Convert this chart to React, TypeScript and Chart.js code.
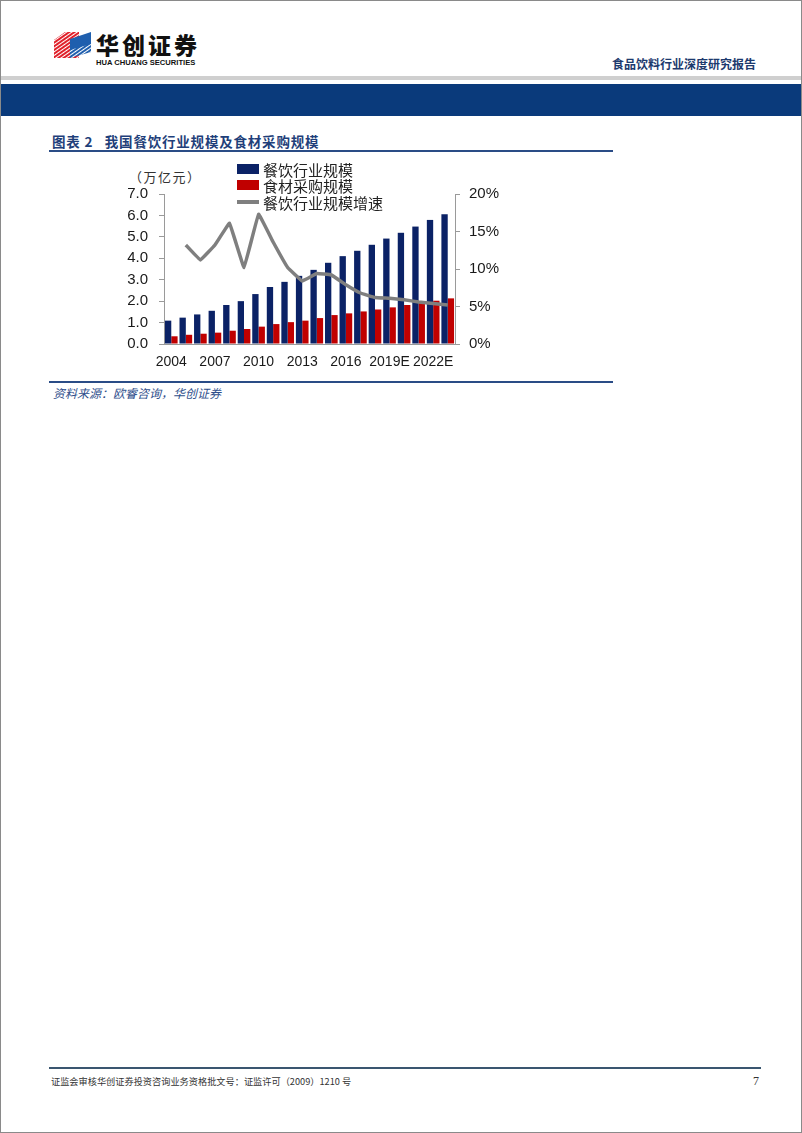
import React, { useEffect, useRef } from "react";
import { Chart, registerables } from "chart.js";

Chart.register(...registerables);

const categories = [
  "2004", "2005", "2006", "2007", "2008", "2009", "2010", "2011", "2012", "2013",
  "2014", "2015", "2016", "2017", "2018", "2019E", "2020E", "2021E", "2022E", "2023E",
];
const cateringScale = [1.09, 1.23, 1.38, 1.55, 1.82, 2.0, 2.33, 2.66, 2.9, 3.18, 3.46, 3.79, 4.1, 4.35, 4.63, 4.92, 5.19, 5.48, 5.79, 6.06];
const foodPurchase = [0.36, 0.43, 0.48, 0.53, 0.62, 0.7, 0.81, 0.93, 1.02, 1.09, 1.21, 1.35, 1.43, 1.52, 1.61, 1.71, 1.82, 1.91, 2.02, 2.13];
const cateringGrowth = [null, 13.2, 11.2, 13.2, 16.1, 10.2, 17.3, 13.6, 10.2, 8.4, 9.4, 9.2, 7.9, 6.8, 6.2, 6.1, 5.9, 5.6, 5.4, 5.2];
const seriesNames = ["餐饮行业规模", "食材采购规模", "餐饮行业规模增速"];
const leftTicks = { min: 0, max: 7, step: 1 };
const rightTicks = { min: 0, max: 20, step: 5 };

const NAVY = "#0b2266";
const RED = "#c00000";
const GRAY = "#7f7f7f";
const AXIS = "#9a9a9a";
const TICK_FONT = "'Liberation Sans', Arial, sans-serif";
const CJK = "'Noto Sans CJK SC', sans-serif";

function ChartBox() {
  const ref = useRef<HTMLCanvasElement | null>(null);
  useEffect(() => {
    if (!ref.current) return;
    const chart = new Chart(ref.current, {
      data: {
        labels: categories,
        datasets: [
          {
            type: "line",
            label: seriesNames[2],
            data: cateringGrowth,
            yAxisID: "y1",
            borderColor: GRAY,
            borderWidth: 3.5,
            pointRadius: 0,
            tension: 0.05,
            borderJoinStyle: "round",
            order: 0,
          } as any,
          {
            type: "bar",
            label: seriesNames[0],
            data: cateringScale,
            yAxisID: "y",
            backgroundColor: NAVY,
            categoryPercentage: 0.87,
            barPercentage: 1.0,
            order: 1,
          },
          {
            type: "bar",
            label: seriesNames[1],
            data: foodPurchase,
            yAxisID: "y",
            backgroundColor: RED,
            categoryPercentage: 0.87,
            barPercentage: 1.0,
            order: 1,
          },
        ],
      },
      options: {
        responsive: false,
        maintainAspectRatio: false,
        animation: false,
        layout: { padding: { top: 43, left: 0, right: 0, bottom: 0 } },
        plugins: { legend: { display: false }, tooltip: { enabled: false } },
        scales: {
          x: {
            grid: { display: false },
            border: { display: true, color: AXIS, width: 1 },
            ticks: {
              autoSkip: false,
              maxRotation: 0,
              minRotation: 0,
              padding: 2,
              color: "#1a1a1a",
              font: { family: TICK_FONT, size: 14 },
              callback: (_v: any, i: number) => (i % 3 === 0 ? categories[i] : ""),
            },
            afterFit: (s: any) => {
              s.height = 37;
            },
          },
          y: {
            position: "left",
            min: leftTicks.min,
            max: leftTicks.max,
            grid: { drawOnChartArea: false, drawTicks: true, tickLength: 5, color: AXIS },
            border: { display: true, color: AXIS, width: 1 },
            ticks: {
              stepSize: leftTicks.step,
              padding: 11,
              color: "#1a1a1a",
              font: { family: TICK_FONT, size: 15 },
              callback: (v: any) => Number(v).toFixed(1),
            },
            afterFit: (s: any) => {
              s.width = 63;
            },
          },
          y1: {
            position: "right",
            min: rightTicks.min,
            max: rightTicks.max,
            grid: { drawOnChartArea: false, drawTicks: true, tickLength: 5, color: AXIS },
            border: { display: true, color: AXIS, width: 1 },
            ticks: {
              stepSize: rightTicks.step,
              padding: 9,
              color: "#1a1a1a",
              font: { family: TICK_FONT, size: 15 },
              callback: (v: any) => `${v}%`,
            },
            afterFit: (s: any) => {
              s.width = 66;
            },
          },
        },
      },
    });
    return () => chart.destroy();
  }, []);
  return (
    <canvas
      ref={ref}
      width={420}
      height={230}
      style={{ position: "absolute", left: 100, top: 150, width: 420, height: 230 }}
    />
  );
}

const abs = (l: number, t: number, extra: React.CSSProperties = {}): React.CSSProperties => ({
  position: "absolute",
  left: l,
  top: t,
  ...extra,
});

function Logo() {
  return (
    <svg style={abs(52, 29)} width={40} height={30} viewBox="0 0 40 30">
      <defs>
        <pattern id="stripes" width="3" height="3" patternUnits="userSpaceOnUse" patternTransform="rotate(-35)">
          <rect width="3" height="3" fill="transparent" />
          <rect width="3" height="1" fill="#ffffff" />
        </pattern>
      </defs>
      <polygon points="1,10 12,2 26,2 26,28 1,28" fill="#e0202a" />
      <polygon points="1,10 12,2 26,2 26,28 1,28" fill="url(#stripes)" />
      <polygon points="17,9 38,2 38,22 17,28" fill="#1f5fae" />
      <polygon points="17,20 38,14 38,22 17,28" fill="url(#stripes)" />
    </svg>
  );
}

export default function App() {
  useEffect(() => {
    document.body.style.margin = "0";
  }, []);
  return (
    <div
      style={{
        position: "absolute",
        left: 0,
        top: 0,
        width: 802,
        height: 1133,
        boxSizing: "border-box",
        border: "1px solid #8a8a8a",
        background: "#ffffff",
        overflow: "hidden",
        fontFamily: CJK,
      }}
    >
      <Logo />
      <div style={abs(95, 31, { fontSize: 23, fontWeight: 900, color: "#111", lineHeight: "24px", letterSpacing: 3, whiteSpace: "nowrap" })}>
        华创证券
      </div>
      <div
        style={abs(95, 58, {
          fontFamily: TICK_FONT,
          fontSize: 7.6,
          fontWeight: 700,
          color: "#111",
          lineHeight: "8px",
          whiteSpace: "nowrap",
        })}
      >
        HUA CHUANG SECURITIES
      </div>
      <div style={abs(611, 55, { fontSize: 12, fontWeight: 700, color: "#1d3a6e", lineHeight: "16px", whiteSpace: "nowrap" })}>
        食品饮料行业深度研究报告
      </div>
      <div style={abs(0, 75, { width: 802, height: 4, background: "#cfcfcf" })} />
      <div style={abs(0, 83, { width: 802, height: 32, background: "#0a3a7b" })} />

      <div style={abs(51, 131, { fontSize: 13.5, fontWeight: 700, color: "#1f3f7a", lineHeight: "18px", whiteSpace: "nowrap", letterSpacing: 0.8 })}>
        图表 2&nbsp;&nbsp;&nbsp;我国餐饮行业规模及食材采购规模
      </div>
      <div style={abs(48, 149, { width: 564, height: 2, background: "#2a4c86" })} />

      <div style={abs(128, 168, { fontSize: 13, color: "#333", lineHeight: "16px", whiteSpace: "nowrap", letterSpacing: 1.5 })}>（万亿元）</div>

      <ChartBox />

      {/* legend */}
      <div style={abs(236, 163, { width: 22, height: 10, background: NAVY })} />
      <div style={abs(262, 161, { fontSize: 15, color: "#222", lineHeight: "15px", whiteSpace: "nowrap" })}>{seriesNames[0]}</div>
      <div style={abs(236, 179, { width: 22, height: 10, background: RED })} />
      <div style={abs(262, 177, { fontSize: 15, color: "#222", lineHeight: "15px", whiteSpace: "nowrap" })}>{seriesNames[1]}</div>
      <div style={abs(236, 199, { width: 22, height: 3.5, background: GRAY })} />
      <div style={abs(262, 194, { fontSize: 15, color: "#222", lineHeight: "15px", whiteSpace: "nowrap" })}>{seriesNames[2]}</div>

      <div style={abs(48, 380, { width: 564, height: 2, background: "#2a4c86" })} />
      <div style={abs(52, 384, { fontSize: 12, fontStyle: "italic", color: "#2f4f8c", lineHeight: "16px", whiteSpace: "nowrap" })}>
        资料来源：欧睿咨询，华创证券
      </div>

      <div style={abs(48, 1066, { width: 712, height: 2, background: "#3a5670" })} />
      <div style={abs(50, 1073, { fontSize: 9.2, color: "#333", lineHeight: "14px", whiteSpace: "nowrap" })}>
        证监会审核华创证券投资咨询业务资格批文号：证监许可（2009）1210 号
      </div>
      <div style={abs(752, 1072, { fontSize: 12, fontFamily: "'Liberation Serif', serif", color: "#333", lineHeight: "16px" })}>7</div>
    </div>
  );
}
